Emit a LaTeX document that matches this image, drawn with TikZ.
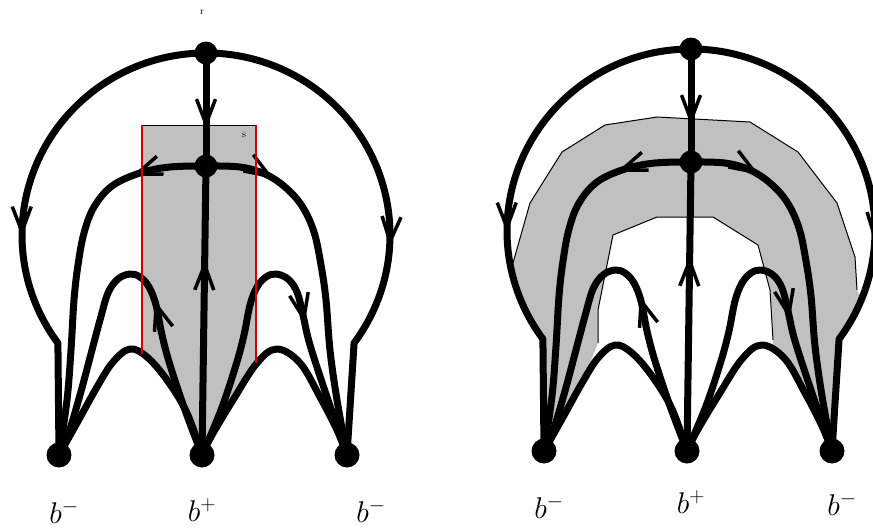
\RequirePackage{fix-cm}
\documentclass[tikz,border=0pt]{standalone}
\usetikzlibrary{arrows.meta,decorations.markings}
\definecolor{shadegray}{RGB}{192,192,192}
\definecolor{edgered}{RGB}{215,0,0}
\tikzset{
  curve/.style={line width=7pt, line join=round, line cap=round},
  vtip/.tip={Straight Barb[length=25pt,width=19pt,line width=3.5pt]},
  arrowat/.style={postaction={decorate, decoration={markings, mark=at position #1 with {\arrow{vtip}}}}},
  dotb/.style={circle, fill=black, draw=none, inner sep=0pt, minimum size=25pt},
  dots/.style={circle, fill=black, draw=none, inner sep=0pt, minimum size=23pt},
  lab/.style={inner sep=0pt, font=\fontsize{30}{36}\selectfont},
  tinylab/.style={inner sep=0pt, font=\fontsize{10}{12}\selectfont},
  thinedge/.style={line width=1pt, black},
  rededge/.style={line width=1.5pt, edgered},
  shade/.style={fill=shadegray, draw=none},
}
\newcommand{\drawpanel}[1]{%
  \node[dots] (#1r) at (206,53) {};
  \node[dots] (#1s) at (206,166) {};
  \node[dotb] (#1bl) at (59,455) {};
  \node[dotb] (#1bm) at (202,455) {};
  \node[dotb] (#1br) at (347,455) {};
  % outer circle, two halves from the top node
  \draw[curve, arrowat=289pt] (#1r.center) arc[start angle=90, end angle=216.4, x radius=184pt, y radius=182pt] -- (#1bl.center);
  \draw[curve, arrowat=299pt] (#1r.center) arc[start angle=90, end angle=-36.4, x radius=184pt, y radius=182pt] -- (#1br.center);
  % vertical edges
  \draw[curve, arrowat=76pt] (#1r.center) -- (#1s.center);
  \draw[curve, arrowat=195pt] (#1bm.center) -- (#1s.center);
  % arch through the inner node
  \draw[curve, arrowat=75pt] plot[smooth, tension=0.6] coordinates {(#1s.center) (170,167) (140,173) (112,186) (94,207) (84,233) (78,265) (74,300) (71,350) (67,400) (#1bl.center)};
  \draw[curve, arrowat=70pt] plot[smooth, tension=0.6] coordinates {(#1s.center) (240,167) (265,174) (285,187) (302,206) (314,232) (321,265) (326,300) (330,350) (337,400) (#1br.center)};
  % upper humps
  \draw[curve, arrowat=162pt] plot[smooth, tension=0.6] coordinates {(#1bm.center) (185,410) (170,365) (162,335) (156,305) (149,287) (140,277) (130,274) (118,279) (108,293) (100,320) (92,350) (80,395) (68,435) (#1bl.center)};
  \draw[curve, arrowat=263pt] plot[smooth, tension=0.6] coordinates {(#1bm.center) (221,410) (236,365) (244,335) (250,305) (257,287) (266,277) (276,274) (288,279) (297,292) (303,315) (310,345) (328,400) (#1br.center)};
  % lower humps
  \draw[curve] plot[smooth, tension=0.6] coordinates {(#1bl.center) (77,423) (97,387) (113,362) (130,349) (147,357) (167,380) (187,413) (#1bm.center)};
  \draw[curve] plot[smooth, tension=0.6] coordinates {(#1bm.center) (212,435) (233,400) (257,363) (277,349) (300,363) (320,397) (337,430) (#1br.center)};
}
\begin{document}
\begin{tikzpicture}[x=1pt, y=-1pt]
  \useasboundingbox (0,0) rectangle (873,530);
  \clip (0,0) rectangle (873,530);
  % ---------- left panel ----------
  \fill[shade] (142,125) -- (256,125) -- (256,363) -- (233,400) -- (212,435) -- (202,455) -- (187,413) -- (167,380) -- (147,357) -- (142,354) -- cycle;
  \drawpanel{l}
  \draw[thinedge] (142,125) -- (256,125);
  \draw[rededge] (142,125) -- (142,354);
  \draw[rededge] (256,125) -- (256,363);
  \node[tinylab] (rlab) at (202,12) {r};
  \node[tinylab] (slab) at (244,135) {s};
  \node[lab] (lbl) at (64,512) {$b^-$};
  \node[lab] (lbm) at (202,510) {$b^+$};
  \node[lab] (lbr) at (371,511) {$b^-$};
  % ---------- right panel ----------
  \fill[shade] (543,452) -- (543,339) -- (525,310) -- (515,280) -- (513,263) -- (530,203) -- (562,152) -- (605,125) -- (657,117) -- (750,122) -- (798,152) -- (837,203) -- (855,257) -- (857,290) -- (862,300) -- (850,322) -- (839,339) -- (836,452) -- (822,426) -- (805,393) -- (785,359) -- (773,348) -- (773,340) -- (770,290) -- (758,245) -- (713,217) -- (657,217) -- (613,235) -- (598,310) -- (598,343) -- (582,383) -- (562,419) -- cycle;
  \draw[thinedge] (513,263) -- (530,203) -- (562,152) -- (605,125) -- (657,117) -- (750,122) -- (798,152) -- (837,203) -- (855,257) -- (857,290);
  \draw[thinedge] (598,343) -- (598,310) -- (613,235) -- (657,217) -- (713,217) -- (758,245) -- (770,290) -- (773,340);
  \begin{scope}[shift={(485,-4)}]
    \drawpanel{q}
  \end{scope}
  \node[lab] (rbl) at (549,507) {$b^-$};
  \node[lab] (rbm) at (691,502) {$b^+$};
  \node[lab] (rbr) at (842,504) {$b^-$};
\end{tikzpicture}
\end{document}
